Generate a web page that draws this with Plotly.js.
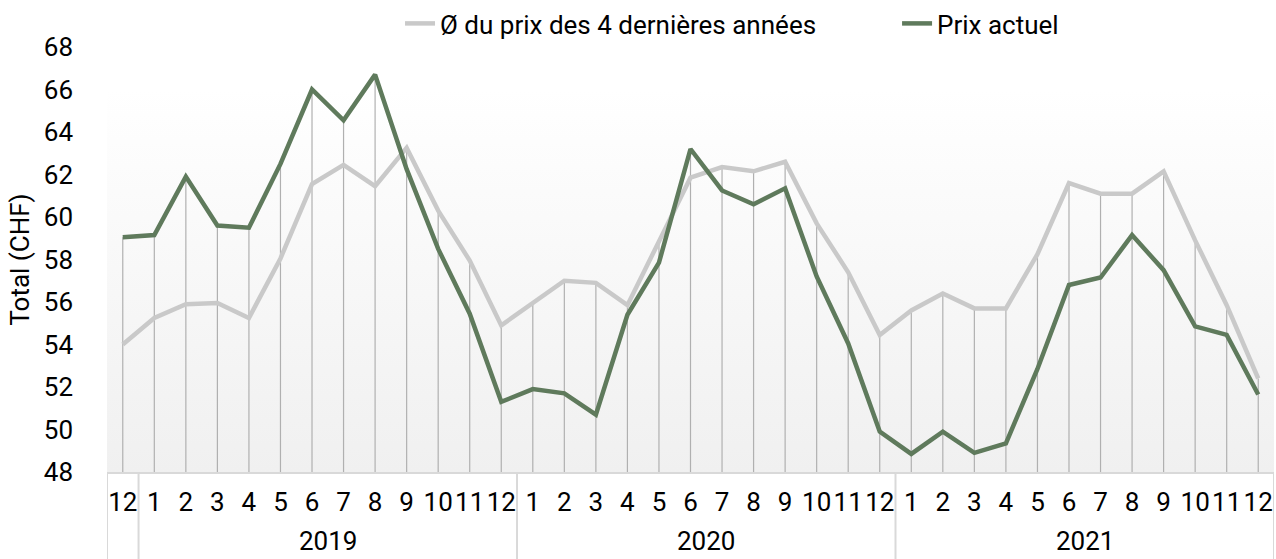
<!DOCTYPE html>
<html>
<head>
<meta charset="utf-8">
<script src="https://cdn.plot.ly/plotly-3.0.1.min.js"></script>
<style>
  html, body { margin: 0; padding: 0; background: #fff; }
  #chart { width: 1276px; height: 559px; }
</style>
</head>
<body>
<div id="chart"></div>
<script>
// month / year of each point (first point is Dec 2018, its year is not labelled)
var months = [12, 1, 2, 3, 4, 5, 6, 7, 8, 9, 10, 11, 12,
              1, 2, 3, 4, 5, 6, 7, 8, 9, 10, 11, 12,
              1, 2, 3, 4, 5, 6, 7, 8, 9, 10, 11, 12];
var years = [2018, 2019, 2019, 2019, 2019, 2019, 2019, 2019, 2019, 2019, 2019, 2019, 2019,
             2020, 2020, 2020, 2020, 2020, 2020, 2020, 2020, 2020, 2020, 2020, 2020,
             2021, 2021, 2021, 2021, 2021, 2021, 2021, 2021, 2021, 2021, 2021, 2021];
var yearLabels = ['2019', '2020', '2021'];

// Ø du prix des 4 dernières années
var avgPrice = [54.0, 55.25, 55.9, 55.95, 55.25, 58.05, 61.55, 62.45, 61.45, 63.25, 60.3, 57.95, 54.9,
                55.95, 57.0, 56.9, 55.85, 58.85, 61.85, 62.35, 62.15, 62.6, 59.7, 57.4, 54.45,
                55.6, 56.4, 55.7, 55.7, 58.25, 61.6, 61.1, 61.1, 62.15, 58.9, 55.85, 52.4];
// Prix actuel
var curPrice = [59.05, 59.15, 61.9, 59.6, 59.5, 62.5, 66.0, 64.55, 66.7, 62.25, 58.5, 55.45, 51.3,
                51.9, 51.7, 50.7, 55.4, 57.85, 63.2, 61.25, 60.6, 61.35, 57.2, 54.05, 49.9,
                48.85, 49.9, 48.9, 49.35, 52.85, 56.8, 57.15, 59.15, 57.5, 54.85, 54.45, 51.65];

var yMin = 48, yMax = 68;

var cats = months.map(function (m, i) { return years[i] + '-' + m; });
var dropTop = avgPrice.map(function (v, i) { return Math.max(v, curPrice[i]); });
var dropLen = dropTop.map(function (v) { return v - yMin; });

var traces = [
  {
    x: cats, y: dropTop,
    type: 'scatter', mode: 'markers',
    marker: {size: 1, opacity: 0},
    error_y: {type: 'data', symmetric: false, array: dropTop.map(function () { return 0; }),
              arrayminus: dropLen, width: 0, thickness: 1.2, color: '#b0b0b0'},
    showlegend: false, hoverinfo: 'skip'
  },
  {
    x: cats, y: avgPrice,
    type: 'scatter', mode: 'lines',
    name: 'Ø du prix des 4 dernières années',
    line: {color: '#c9c9c9', width: 4.5},
    legend: 'legend'
  },
  {
    x: cats, y: curPrice,
    type: 'scatter', mode: 'lines',
    name: 'Prix actuel',
    line: {color: '#5f7a5c', width: 4.5},
    legend: 'legend2'
  }
];

// plot area gradient (white at top to light grey at bottom)
var grad = '<svg xmlns="http://www.w3.org/2000/svg" width="10" height="100" preserveAspectRatio="none">' +
  '<defs><linearGradient id="g" x1="0" y1="0" x2="0" y2="1">' +
  '<stop offset="0.1" stop-color="#ffffff"/><stop offset="1" stop-color="#f0f0f0"/>' +
  '</linearGradient></defs><rect width="10" height="100" fill="url(#g)"/></svg>';

// dividers of the year groups under the axis
var dividers = [-0.5, 0.5, 12.5, 24.5, 36.5].map(function (xv) {
  return {type: 'line', xref: 'x', yref: 'paper', x0: xv, x1: xv, y0: 0, y1: -0.21,
          line: {color: '#d9d9d9', width: 2}};
});

var yearNotes = yearLabels.map(function (yl, k) {
  return {text: yl, xref: 'x', yref: 'paper', x: 6.5 + 12 * k, y: -0.163,
          showarrow: false, yanchor: 'middle',
          font: {family: 'Roboto, sans-serif', size: 26, color: '#000'}};
});

var legendBase = {orientation: 'h', xanchor: 'left', y: 1.0, yanchor: 'top',
                  yref: 'container', font: {size: 26}};

var layout = {
  width: 1276, height: 559,
  margin: {l: 107, r: 2, t: 43, b: 87},
  paper_bgcolor: '#ffffff',
  plot_bgcolor: 'rgba(0,0,0,0)',
  font: {family: 'Roboto, sans-serif', size: 26, color: '#000'},
  showlegend: true,
  legend: Object.assign({x: 0.2511}, legendBase),
  legend2: Object.assign({x: 0.677}, legendBase),
  xaxis: {
    type: 'category', range: [-0.5, 36.5],
    tickvals: cats, ticktext: months.map(String),
    showgrid: false, zeroline: false, ticks: '',
    showline: true, linecolor: '#d9d9d9', linewidth: 2,
    ticklabelstandoff: 6, tickangle: 0,
    tickfont: {size: 26}
  },
  yaxis: {
    range: [yMin, yMax], dtick: 2,
    showgrid: false, zeroline: false, ticks: '',
    showline: false, ticklabelstandoff: 33,
    tickfont: {size: 26},
    title: {text: 'Total (CHF)', font: {size: 26}, standoff: 6}
  },
  images: [{
    source: 'data:image/svg+xml;charset=utf-8,' + encodeURIComponent(grad),
    xref: 'paper', yref: 'paper', x: 0, y: 1, sizex: 1, sizey: 1,
    xanchor: 'left', yanchor: 'top', sizing: 'stretch', layer: 'below'
  }],
  shapes: dividers,
  annotations: yearNotes
};

Plotly.newPlot('chart', traces, layout, {displayModeBar: false, staticPlot: true});
</script>
</body>
</html>
